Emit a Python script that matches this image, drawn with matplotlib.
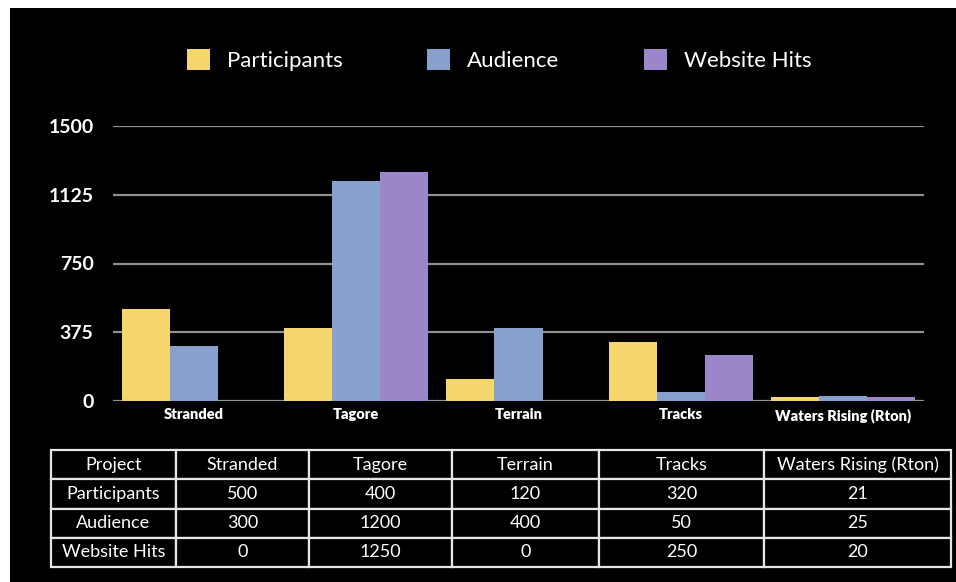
import numpy as np
import matplotlib
matplotlib.use("Agg")
import matplotlib.pyplot as plt
from matplotlib.patches import Patch, Rectangle

plt.rcParams["font.family"] = ["Lato", "DejaVu Sans"]

projects = ["Stranded", "Tagore", "Terrain", "Tracks", "Waters Rising (Rton)"]
series_names = ["Participants", "Audience", "Website Hits"]
participants = [500, 400, 120, 320, 21]
audience = [300, 1200, 400, 50, 25]
website_hits = [0, 1250, 0, 250, 20]
y_ticks = [0, 375, 750, 1125, 1500]

colors = ["#F4D66C", "#87A0CE", "#9A86C8"]
W, H = 956, 582

fig = plt.figure(figsize=(W / 100, H / 100), dpi=100, facecolor="white")
# black slide background with thin white strip on top and left
fig.patches.append(Rectangle((10 / W, 0), 1, 1 - 8 / H, transform=fig.transFigure,
                             facecolor="black", edgecolor="none", zorder=-10))

ax = fig.add_axes([113 / W, 1 - 401 / H, (924 - 113) / W, (401 - 126) / H])
ax.set_zorder(2)
ax.patch.set_alpha(0)

x = np.arange(len(projects))
bw = 0.296
for i, vals in enumerate([participants, audience, website_hits]):
    ax.bar(x + (i - 1) * bw, vals, width=bw, color=colors[i], zorder=3)

ax.set_xlim(-0.5, len(projects) - 0.5)
ax.set_ylim(0, 1500)
ax.set_yticks(y_ticks)
ax.set_yticklabels([str(t) for t in y_ticks], color="white", fontsize=14, fontweight="bold")
ax.tick_params(axis="y", length=0, pad=14)
ax.set_xticks(x)
ax.set_xticklabels(projects, color="white", fontsize=10.5, fontweight="heavy")
ax.tick_params(axis="x", length=0, pad=5)
ax.grid(axis="y", color="#909090", lw=1.6, zorder=1)
for s in ax.spines.values():
    s.set_visible(False)

handles = [Patch(facecolor=c, edgecolor="none") for c in colors]
leg = fig.legend(handles, series_names, loc="center", bbox_to_anchor=(499 / W, 1 - 60 / H),
                 ncol=3, frameon=False, fontsize=16, handlelength=1.05, handleheight=1.05,
                 handletextpad=0.75, columnspacing=3.8)
leg.set_zorder(3)
for t in leg.get_texts():
    t.set_color("white")

# data table under the chart
tab_ax = fig.add_axes([51 / W, 1 - 567 / H, (951 - 51) / W, (567 - 450) / H])
tab_ax.set_zorder(2)
tab_ax.axis("off")
cell_text = [[series_names[0]] + [str(v) for v in participants],
             [series_names[1]] + [str(v) for v in audience],
             [series_names[2]] + [str(v) for v in website_hits]]
col_w = np.array([125, 133, 143, 147, 165, 187], dtype=float)
tbl = tab_ax.table(cellText=cell_text, colLabels=["Project"] + projects,
                   colWidths=list(col_w / col_w.sum()), cellLoc="center", bbox=[0, 0, 1, 1])
tbl.auto_set_font_size(False)
for (r, c), cell in tbl.get_celld().items():
    cell.set_facecolor("black")
    cell.set_edgecolor("#e6e6e6")
    cell.set_linewidth(1.6)
    cell.get_text().set_color("white")
    cell.get_text().set_fontsize(13)

fig.savefig("out.png", dpi=100, facecolor=fig.get_facecolor())
